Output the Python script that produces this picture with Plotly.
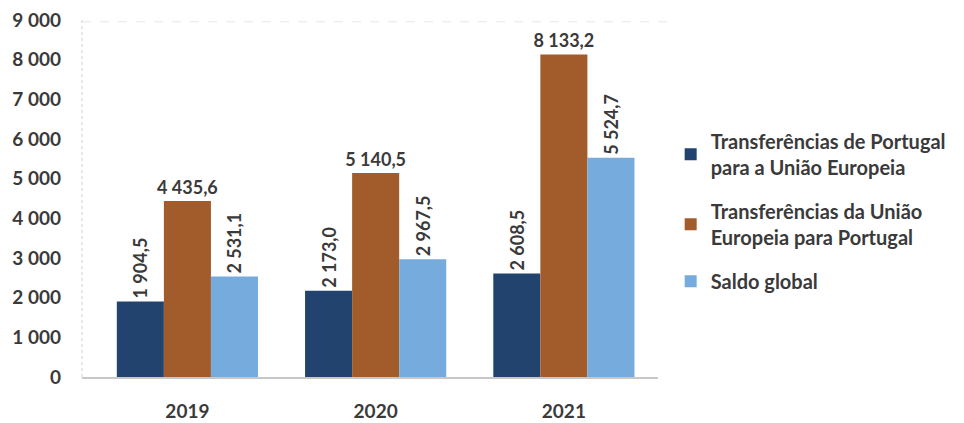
import plotly.graph_objects as go

years = ["2019", "2020", "2021"]
series_names = [
    "Transferências de Portugal<br>para a União Europeia",
    "Transferências da União<br>Europeia para Portugal",
    "Saldo global",
]
pt_to_eu = [1904.5, 2173.0, 2608.5]
eu_to_pt = [4435.6, 5140.5, 8133.2]
saldo = [2531.1, 2967.5, 5524.7]
tick_vals = [0, 1000, 2000, 3000, 4000, 5000, 6000, 7000, 8000, 9000]
tick_text = ["0", "1 000", "2 000", "3 000", "4 000", "5 000", "6 000", "7 000", "8 000", "9 000"]

colors = ["#22436E", "#A25C2C", "#76ACDD"]
angles = [-90, 0, -90]


def fmt(v):
    return f"{v:,.1f}".replace(",", " ").replace(".", ",")


FONT = "Lato"
fig = go.Figure()
for i, (name, vals, col, ang) in enumerate(zip(series_names, [pt_to_eu, eu_to_pt, saldo], colors, angles)):
    fig.add_trace(go.Bar(
        x=years, y=vals, name=name, legendgroup=f"g{i}",
        marker=dict(color=col, line=dict(width=0)),
        text=[fmt(v) for v in vals],
        textposition="outside", textangle=ang, constraintext="none",
        textfont=dict(family=FONT, size=18, color="#3a3a3a", weight="bold"),
        cliponaxis=False,
    ))

fig.update_layout(
    width=964, height=423,
    margin=dict(l=82, r=306, t=20, b=46, autoexpand=False),
    paper_bgcolor="white", plot_bgcolor="white",
    barmode="group", bargap=0.25, bargroupgap=0,
    font=dict(family=FONT, color="#3a3a3a"),
    showlegend=True,
    legend=dict(
        x=1.022, y=0.715, xanchor="left", yanchor="top",
        font=dict(family=FONT, size=20, color="#3a3a3a", weight="bold"),
        tracegroupgap=15, itemwidth=30,
    ),
    xaxis=dict(
        range=[-0.56, 2.5], showgrid=False, zeroline=False, automargin=False,
        showline=True, linecolor="#c8c8c8", linewidth=1.5,
        tickfont=dict(family=FONT, size=19, color="#3a3a3a", weight="bold"),
        ticks="", ticklabelstandoff=16,
    ),
    yaxis=dict(
        range=[0, 9000], tickvals=tick_vals, ticktext=tick_text, automargin=False,
        showgrid=False, zeroline=False, showline=False,
        tickfont=dict(family=FONT, size=19, color="#3a3a3a", weight="bold"),
        ticks="", ticklabelstandoff=20,
    ),
    shapes=[
        dict(type="line", xref="paper", yref="paper", x0=0, x1=0, y0=0, y1=1,
             line=dict(color="#cfcfcf", width=1, dash="dot")),
        dict(type="line", xref="paper", yref="paper", x0=0, x1=1.02, y0=0.995, y1=0.995,
             line=dict(color="#e6e6e6", width=1, dash="dash")),
    ],
)

fig.write_html("out.html")
